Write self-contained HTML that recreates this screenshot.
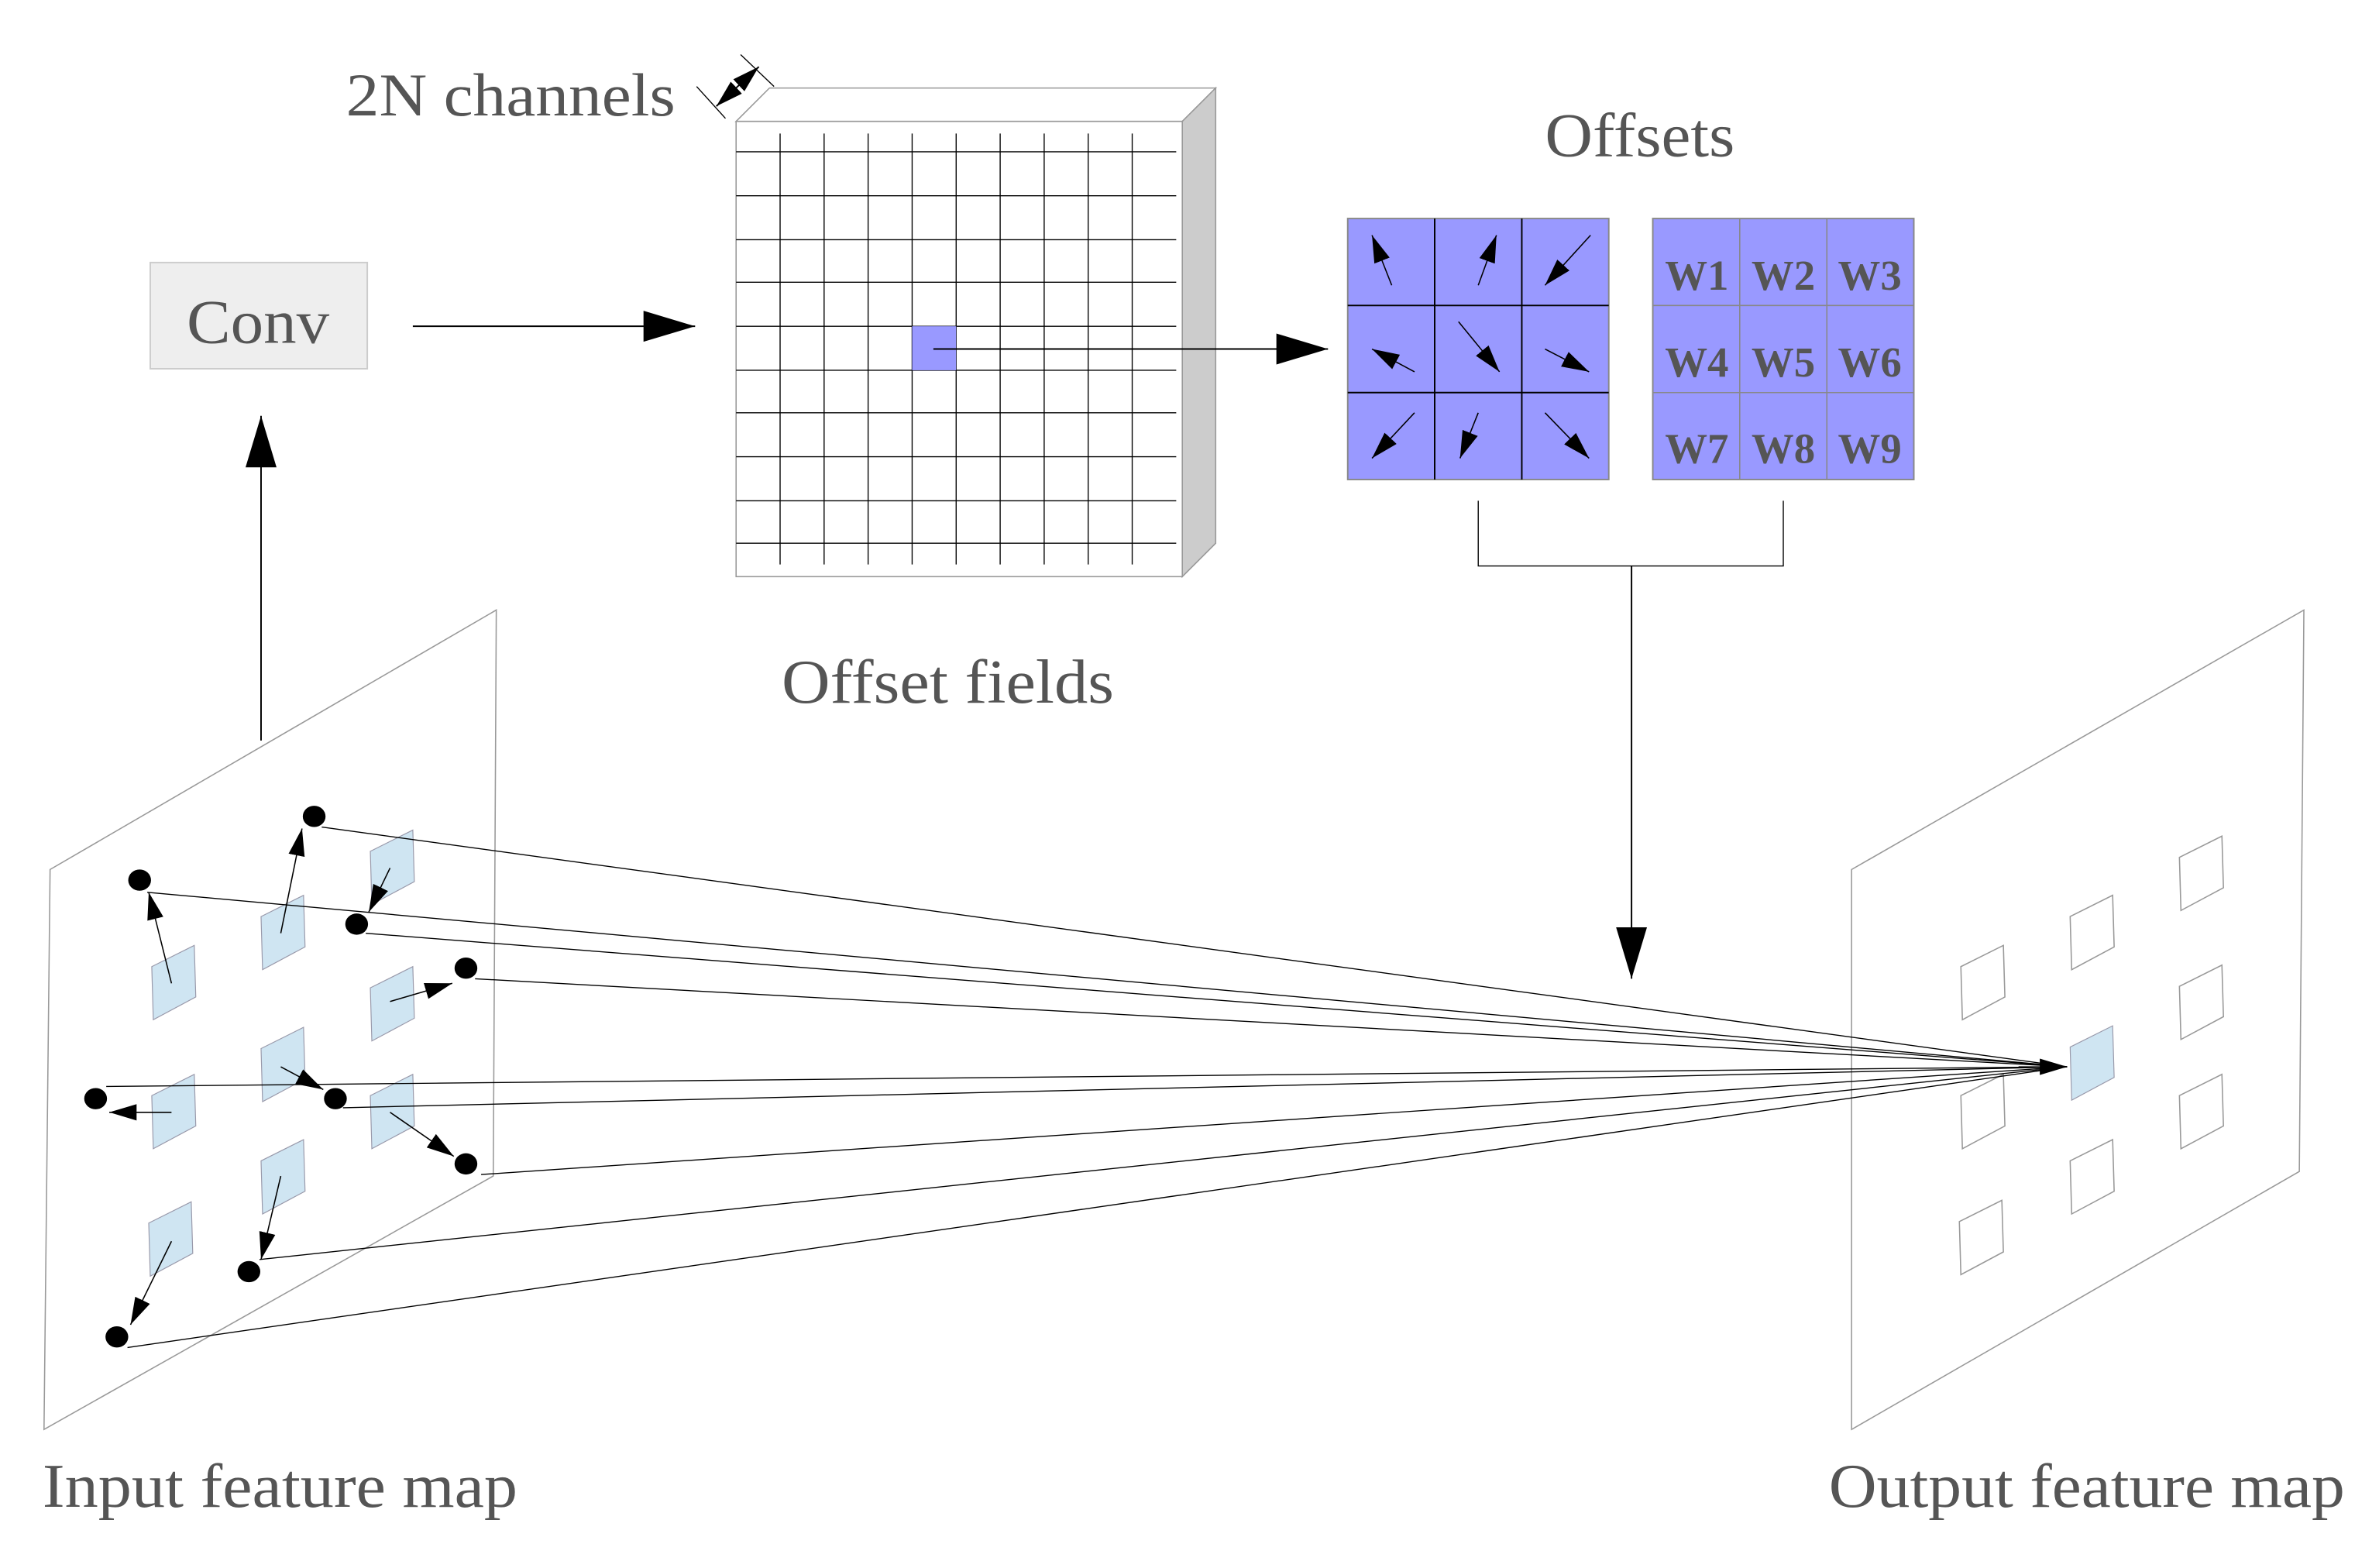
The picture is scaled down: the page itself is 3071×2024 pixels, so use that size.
<!DOCTYPE html>
<html><head><meta charset="utf-8"><style>html,body{margin:0;padding:0;background:#fff}svg{display:block}</style></head><body>
<svg width="3071" height="2024" viewBox="0 0 1567.5 1033.3" preserveAspectRatio="none" xmlns="http://www.w3.org/2000/svg" font-family="Liberation Serif, serif">
<defs>
<marker id="b" viewBox="0 0 10 10" refX="10" refY="5" markerWidth="34" markerHeight="34" markerUnits="userSpaceOnUse" orient="auto"><path d="M0,2 L10,5 L0,8z" fill="#000"/></marker>
<marker id="c" viewBox="0 0 10 10" refX="10" refY="5" markerWidth="18" markerHeight="18" markerUnits="userSpaceOnUse" orient="auto"><path d="M0,2 L10,5 L0,8z" fill="#000"/></marker>
<marker id="s" viewBox="0 0 10 10" refX="0" refY="5" markerWidth="18" markerHeight="18" markerUnits="userSpaceOnUse" orient="auto"><path d="M10,2 L0,5 L10,8z" fill="#000"/></marker>
</defs>
<g fill="#555">
<text x="228" y="76" font-size="40" textLength="217" lengthAdjust="spacingAndGlyphs">2N channels</text>
<text x="1018" y="103" font-size="41" textLength="125" lengthAdjust="spacingAndGlyphs">Offsets</text>
<text x="515" y="463" font-size="41" textLength="219" lengthAdjust="spacingAndGlyphs">Offset fields</text>
<text x="28" y="993" font-size="41" textLength="313" lengthAdjust="spacingAndGlyphs">Input feature map</text>
<text x="1205" y="993" font-size="41" textLength="340" lengthAdjust="spacingAndGlyphs">Output feature map</text>
</g>
<rect x="99" y="173" width="143" height="70" fill="#eee" stroke="#ccc"/>
<text x="123" y="226" font-size="41" fill="#555" textLength="94" lengthAdjust="spacingAndGlyphs">Conv</text>
<line x1="172" y1="488" x2="172" y2="274" stroke="#000" stroke-width="1" marker-end="url(#b)"/>
<line x1="272" y1="215" x2="458" y2="215" stroke="#000" stroke-width="1" marker-end="url(#b)"/>
<polygon points="485,80 507,58 801,58 779,80" fill="#fff" stroke="#999" stroke-width="0.8"/>
<polygon points="779,80 801,58 801,358 779,380" fill="#ccc" stroke="#999" stroke-width="0.8"/>
<rect x="485" y="80" width="294" height="300" fill="#fff" stroke="#999" stroke-width="0.8"/>
<g stroke="#000" stroke-width="0.7">
<line x1="514" y1="88" x2="514" y2="372"/><line x1="543" y1="88" x2="543" y2="372"/><line x1="572" y1="88" x2="572" y2="372"/><line x1="601" y1="88" x2="601" y2="372"/><line x1="630" y1="88" x2="630" y2="372"/><line x1="659" y1="88" x2="659" y2="372"/><line x1="688" y1="88" x2="688" y2="372"/><line x1="717" y1="88" x2="717" y2="372"/><line x1="746" y1="88" x2="746" y2="372"/>
<line x1="485" y1="100" x2="775" y2="100"/><line x1="485" y1="129" x2="775" y2="129"/><line x1="485" y1="158" x2="775" y2="158"/><line x1="485" y1="186" x2="775" y2="186"/><line x1="485" y1="215" x2="775" y2="215"/><line x1="485" y1="244" x2="775" y2="244"/><line x1="485" y1="272" x2="775" y2="272"/><line x1="485" y1="301" x2="775" y2="301"/><line x1="485" y1="330" x2="775" y2="330"/><line x1="485" y1="358" x2="775" y2="358"/>
</g>
<rect x="601" y="215" width="29" height="29" fill="#9999ff"/>
<line x1="615" y1="230" x2="875" y2="230" stroke="#000" stroke-width="1" marker-end="url(#b)"/>
<line x1="459" y1="57" x2="478" y2="78" stroke="#000" stroke-width="0.7"/>
<line x1="488" y1="36" x2="510" y2="57" stroke="#000" stroke-width="0.7"/>
<line x1="472" y1="70" x2="500" y2="44" stroke="#000" stroke-width="1" marker-end="url(#c)" marker-start="url(#s)"/>
<rect x="888" y="144" width="172" height="172" fill="#9999ff" stroke="#888"/>
<g stroke="#000" stroke-width="1"><line x1="945.3" y1="144" x2="945.3" y2="316"/><line x1="1002.7" y1="144" x2="1002.7" y2="316"/><line x1="888" y1="201.3" x2="1060" y2="201.3"/><line x1="888" y1="258.7" x2="1060" y2="258.7"/></g>
<g stroke="#000" stroke-width="0.8" marker-end="url(#c)">
<line x1="917" y1="188" x2="904" y2="155"/><line x1="974" y1="188" x2="986" y2="155"/><line x1="1048" y1="155" x2="1018" y2="188"/>
<line x1="932" y1="245" x2="904" y2="230"/><line x1="961" y1="212" x2="988" y2="245"/><line x1="1018" y1="230" x2="1047" y2="245"/>
<line x1="932" y1="272" x2="904" y2="302"/><line x1="974" y1="272" x2="962" y2="302"/><line x1="1018" y1="272" x2="1047" y2="302"/>
</g>
<rect x="1089" y="144" width="172" height="172" fill="#9999ff" stroke="#888"/>
<g stroke="#888" stroke-width="0.8"><line x1="1146.3" y1="144" x2="1146.3" y2="316"/><line x1="1203.7" y1="144" x2="1203.7" y2="316"/><line x1="1089" y1="201.3" x2="1261" y2="201.3"/><line x1="1089" y1="258.7" x2="1261" y2="258.7"/></g>
<g fill="#555" font-size="28" font-weight="bold" text-anchor="middle">
<text x="1118" y="191">W1</text><text x="1175" y="191">W2</text><text x="1232" y="191">W3</text>
<text x="1118" y="248">W4</text><text x="1175" y="248">W5</text><text x="1232" y="248">W6</text>
<text x="1118" y="305">W7</text><text x="1175" y="305">W8</text><text x="1232" y="305">W9</text>
</g>
<polyline points="974,330 974,373 1175,373 1175,330" fill="none" stroke="#000" stroke-width="0.7"/>
<line x1="1075" y1="373" x2="1075" y2="645" stroke="#000" stroke-width="1" marker-end="url(#b)"/>
<polygon points="33,573 327,402 325,775 29,942" fill="none" stroke="#999" stroke-width="0.8"/>
<polygon points="1220,573 1518,402 1515,772 1220,942" fill="none" stroke="#999" stroke-width="0.8"/>
<g fill="#cfe5f2" stroke="#99a" stroke-width="0.6">
<polygon points="100,637 128,623 129,657 101,672"/>
<polygon points="172,604 200,590 201,624 173,639"/>
<polygon points="244,561 272,547 273,581 245,596"/>
<polygon points="244,651 272,637 273,671 245,686"/>
<polygon points="172,691 200,677 201,711 173,726"/>
<polygon points="100,722 128,708 129,742 101,757"/>
<polygon points="244,722 272,708 273,742 245,757"/>
<polygon points="172,765 200,751 201,785 173,800"/>
<polygon points="98,806 126,792 127,826 99,841"/>
</g>
<g fill="none" stroke="#999" stroke-width="0.8">
<polygon points="1292,637 1320,623 1321,657 1293,672"/>
<polygon points="1364,604 1392,590 1393,624 1365,639"/>
<polygon points="1436,565 1464,551 1465,585 1437,600"/>
<polygon points="1436,650 1464,636 1465,670 1437,685"/>
<polygon points="1292,722 1320,708 1321,742 1293,757"/>
<polygon points="1436,722 1464,708 1465,742 1437,757"/>
<polygon points="1364,765 1392,751 1393,785 1365,800"/>
<polygon points="1291,805 1319,791 1320,825 1292,840"/>
</g>
<polygon points="1364,690 1392,676 1393,710 1365,725" fill="#cfe5f2" stroke="#99a" stroke-width="0.6"/>
<g stroke="#000" stroke-width="0.8" marker-end="url(#c)">
<line x1="113" y1="648" x2="98" y2="588"/>
<line x1="185" y1="615" x2="199" y2="546"/>
<line x1="257" y1="572" x2="243" y2="601"/>
<line x1="257" y1="660" x2="298" y2="648"/>
<line x1="185" y1="703" x2="213" y2="718"/>
<line x1="113" y1="733" x2="72" y2="733"/>
<line x1="257" y1="733" x2="299" y2="762"/>
<line x1="185" y1="775" x2="172" y2="830"/>
<line x1="113" y1="818" x2="86" y2="873"/>
</g>
<g fill="#000">
<ellipse cx="92" cy="580" rx="7.5" ry="7"/><ellipse cx="207" cy="538" rx="7.5" ry="7"/><ellipse cx="235" cy="609" rx="7.5" ry="7"/>
<ellipse cx="307" cy="638" rx="7.5" ry="7"/><ellipse cx="63" cy="724" rx="7.5" ry="7"/><ellipse cx="221" cy="724" rx="7.5" ry="7"/>
<ellipse cx="307" cy="767" rx="7.5" ry="7"/><ellipse cx="164" cy="838" rx="7.5" ry="7"/><ellipse cx="77" cy="881" rx="7.5" ry="7"/>
</g>
<g stroke="#000" stroke-width="0.7">
<line x1="212" y1="545" x2="1362" y2="703"/>
<line x1="97" y1="588" x2="1362" y2="703"/>
<line x1="241" y1="615" x2="1362" y2="703"/>
<line x1="313" y1="645" x2="1362" y2="703"/>
<line x1="70" y1="716" x2="1362" y2="703"/>
<line x1="226" y1="730" x2="1362" y2="703"/>
<line x1="317" y1="774" x2="1362" y2="703"/>
<line x1="171" y1="830" x2="1362" y2="703"/>
<line x1="84" y1="888" x2="1362" y2="703"/>
</g>
<line x1="1330" y1="703" x2="1362" y2="703" stroke="#000" stroke-width="0.7" marker-end="url(#c)"/>
</svg>
</body></html>
